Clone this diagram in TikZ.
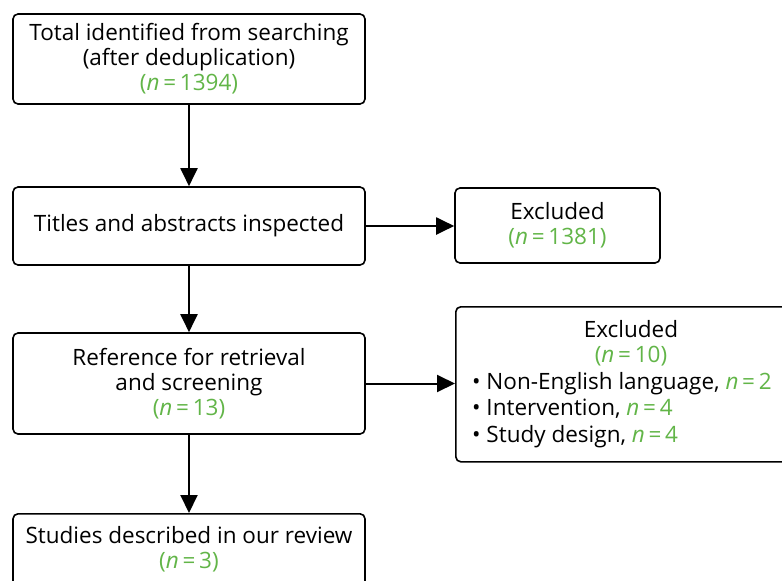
\documentclass[tikz,border=0pt]{standalone}
\usepackage{fontspec}
\setmainfont{Open Sans}
\usetikzlibrary{arrows.meta}
\definecolor{ngreen}{RGB}{98,181,72}
\newcommand{\nn}[1]{\textcolor{ngreen}{(\textit{n}\,=\,#1)}}
\newcommand{\nb}[1]{\textcolor{ngreen}{\textit{n}\,=\,#1}}
\tikzset{
  box/.style={draw=black, line width=1.6pt, rounded corners=5pt, fill=white, align=center,
    inner sep=0pt, font=\fontsize{22.5}{25}\selectfont},
  arr/.style={line width=2pt, -{Triangle[length=18pt,width=17pt]}},
  txt/.style={inner sep=0pt, font=\fontsize{22.5}{26.5}\selectfont}
}
\begin{document}
\begin{tikzpicture}[x=1pt,y=-1pt]
\useasboundingbox (0,0) rectangle (782,581);
\clip (0,0) rectangle (782,581);
\fill[white] (0,0) rectangle (782,581);
\node[box, minimum width=352pt, minimum height=90pt] (b1) at (189,59)
  {Total identified from searching\\(after deduplication)\\\nn{1394}};
\node[box, minimum width=352pt, minimum height=78pt] (b2) at (189,226)
  {Titles and abstracts inspected};
\node[box, minimum width=205pt, minimum height=75pt] (e1) at (557.5,225.5)
  {Excluded\\\nn{1381}};
\node[box, minimum width=352pt, minimum height=101pt] (b3) at (189,383.5)
  {Reference for retrieval\\and screening\\\nn{13}};
\node[box, minimum width=352pt, minimum height=90pt, anchor=north] (b4) at (189,513)
  {};
\node[txt, align=center, font=\fontsize{22.5}{25}\selectfont] (b4t) at (189,549) {Studies described in our review\\\nn{3}};
\node[box, minimum width=352pt, minimum height=155pt, anchor=north west] (e2) at (455,306) {};
\node[txt, align=center, font=\fontsize{22.5}{25}\selectfont] (e2t) at (631,343) {Excluded\\\nn{10}};
\node[txt, align=left, anchor=west] (e2l) at (472,410)
  {\textbullet\ Non-English language, \nb{2}\\\textbullet\ Intervention, \nb{4}\\\textbullet\ Study design, \nb{4}};
\draw[arr] (b1) -- (b2);
\draw[arr] (b2) -- (b3);
\draw[arr] (b3) -- (b4);
\draw[arr] (b2.east) -- (e1.west |- b2.east);
\draw[arr] (b3.east) -- (e2.west |- b3.east);
\end{tikzpicture}
\end{document}
